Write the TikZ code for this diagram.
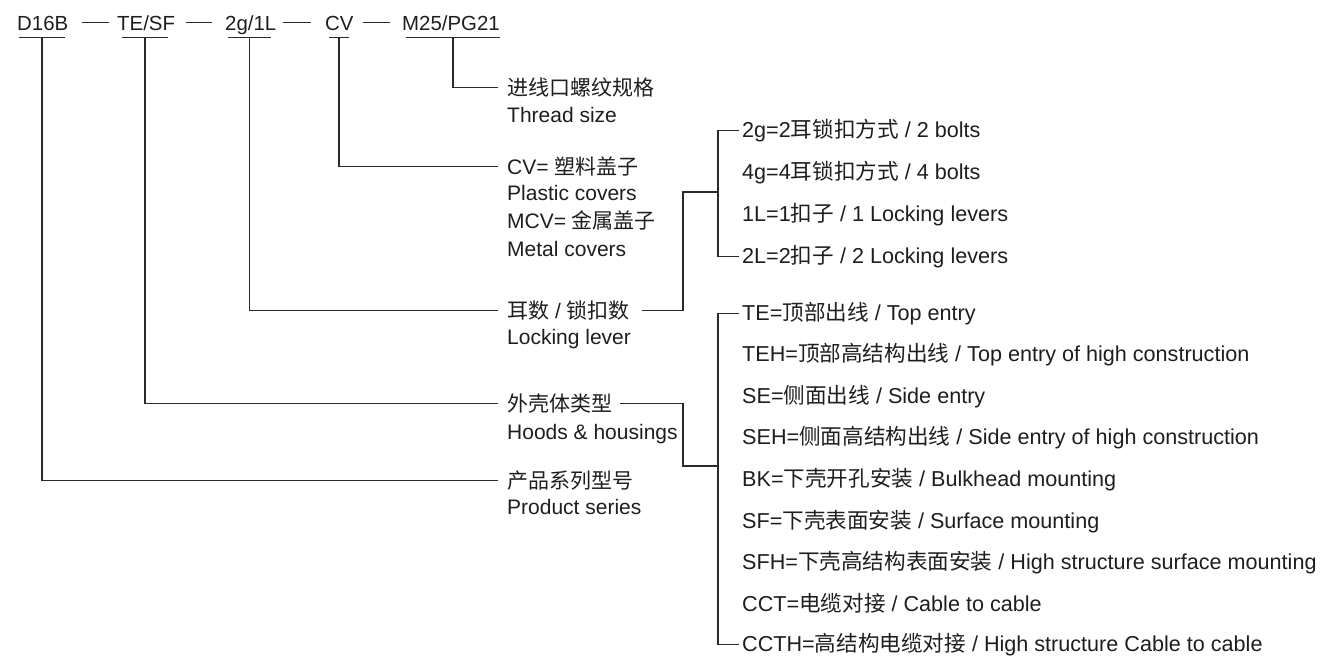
\documentclass[tikz,border=0pt]{standalone}
\usepackage{fontspec}
\setmainfont{Liberation Sans}
\newfontfamily\cjk{Noto Sans CJK SC}
\newcommand\zh[1]{{\cjk #1}}
\definecolor{ink}{HTML}{1E1E1E}
\definecolor{wire}{HTML}{2A2A2A}
\begin{document}
\begin{tikzpicture}[x=1pt,y=-1pt,
  lbl/.style={anchor=base west, inner sep=0pt, text=ink, font=\fontsize{21}{25}\selectfont},
  itm/.style={anchor=base west, inner sep=0pt, text=ink, font=\fontsize{21.6}{25}\selectfont},
  hdr/.style={anchor=base west, inner sep=0pt, text=ink, font=\fontsize{20.4}{24}\selectfont},
  wire/.style={draw=wire, line width=1.2pt}]
\useasboundingbox (0,0) rectangle (1321,656);
% header
\node[hdr] (d16b) at (17,30) {D16B};
\node[hdr] (tesf) at (117,30) {TE/SF};
\node[hdr] (g1l)  at (225,30) {2g/1L};
\node[hdr] (cv)   at (325,30) {CV};
\node[hdr] (m25)  at (402,30) {M25/PG21};
\draw[wire] (82,22.5) -- (109,22.5);
\draw[wire] (186,22.5) -- (212,22.5);
\draw[wire] (283,22.5) -- (311,22.5);
\draw[wire] (363,22.5) -- (390,22.5);
% underlines
\draw[wire] (19,37.5) -- (65,37.5);
\draw[wire] (122,37.5) -- (168,37.5);
\draw[wire] (228,37.5) -- (271,37.5);
\draw[wire] (329,37.5) -- (349,37.5);
\draw[wire] (406,37.5) -- (500,37.5);
\coordinate (d16bu) at (42,37.5);
\coordinate (tesfu) at (145,37.5);
\coordinate (g1lu)  at (249.5,37.5);
\coordinate (cvu)   at (339,37.5);
\coordinate (m25u)  at (453,37.5);
% left labels
\node[lbl] (thr)  at (507,95.5)  {\zh{进线口螺纹规格}};
\node[lbl] (thr2) at (507,122.5) {Thread size};
\node[lbl] (pc)   at (507,174.5) {CV= \zh{塑料盖子}};
\node[lbl] (pc2)  at (507,200.5) {Plastic covers};
\node[lbl] (mc)   at (507,228.5) {MCV= \zh{金属盖子}};
\node[lbl] (mc2)  at (507,256.5) {Metal covers};
\node[lbl] (ed)   at (507,318.5) {\zh{耳数} / \zh{锁扣数}};
\node[lbl] (ed2)  at (507,344.5) {Locking lever};
\node[lbl] (hh)   at (507,411.5) {\zh{外壳体类型}};
\node[lbl] (hh2)  at (507,439.5) {Hoods \& housings};
\node[lbl] (ps)   at (507,488.5) {\zh{产品系列型号}};
\node[lbl] (ps2)  at (507,514.5) {Product series};
% drops
\draw[wire] (m25u)  |- ([xshift=-9pt]thr.west);
\draw[wire] (cvu)   |- ([xshift=-9pt]pc.west);
\draw[wire] (g1lu)  |- ([xshift=-9pt]ed.west);
\draw[wire] (tesfu) |- ([xshift=-9pt]hh.west);
\draw[wire] (d16bu) |- ([xshift=-9pt]ps.west);
% right list 1
\node[itm] (a1) at (742,137.5) {2g=2\zh{耳锁扣方式} / 2 bolts};
\node[itm] (a2) at (742,179.5) {4g=4\zh{耳锁扣方式} / 4 bolts};
\node[itm] (a3) at (742,221.5) {1L=1\zh{扣子} / 1 Locking levers};
\node[itm] (a4) at (742,263.5) {2L=2\zh{扣子} / 2 Locking levers};
\coordinate (j1) at (683,192);
\coordinate (k1) at (718,192);
\draw[wire] ([xshift=12pt]ed.east) -| (j1) -- (k1);
\draw[wire] ([xshift=-3pt]a1.west) -| (k1) |- ([xshift=-3pt]a4.west);
% right list 2
\node[itm] (b1) at (742,320.0) {TE=\zh{顶部出线} / Top entry};
\node[itm] (b2) at (742,361.6) {TEH=\zh{顶部高结构出线} / Top entry of high construction};
\node[itm] (b3) at (742,403.2) {SE=\zh{侧面出线} / Side entry};
\node[itm] (b4) at (742,444.8) {SEH=\zh{侧面高结构出线} / Side entry of high construction};
\node[itm] (b5) at (742,486.4) {BK=\zh{下壳开孔安装} / Bulkhead mounting};
\node[itm] (b6) at (742,528.0) {SF=\zh{下壳表面安装} / Surface mounting};
\node[itm] (b7) at (742,569.6) {SFH=\zh{下壳高结构表面安装} / High structure surface mounting};
\node[itm] (b8) at (742,611.2) {CCT=\zh{电缆对接} / Cable to cable};
\node[itm] (b9) at (742,651.0) {CCTH=\zh{高结构电缆对接} / High structure Cable to cable};
\coordinate (j2) at (683,466);
\coordinate (k2) at (718,466);
\draw[wire] ([xshift=8pt]hh.east) -| (j2) -- (k2);
\draw[wire] ([xshift=-3pt]b1.west) -| (k2) |- ([xshift=-3pt]b9.west);
\end{tikzpicture}
\end{document}
